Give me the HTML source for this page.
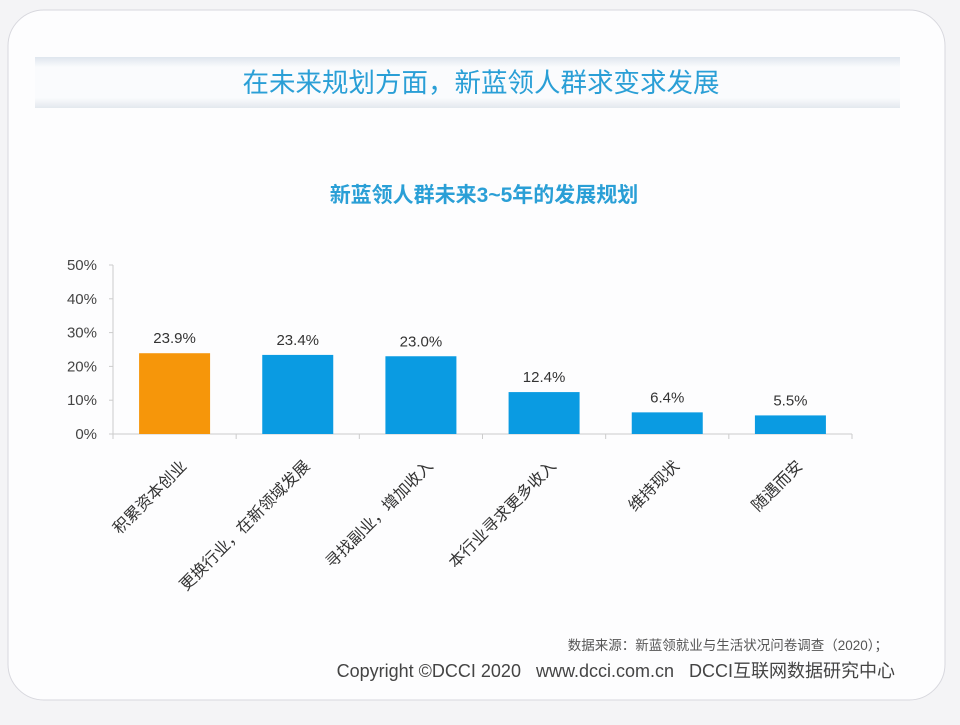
<!DOCTYPE html>
<html><head><meta charset="utf-8"><style>
body{margin:0;width:960px;height:720px;background:#f4f4f6;overflow:hidden;font-family:"Liberation Sans","Noto Sans CJK SC",sans-serif}
</style></head><body>
<svg width="960" height="720">
<defs><linearGradient id="band" x1="0" y1="0" x2="0" y2="1"><stop offset="0" stop-color="#dfe6ee"/><stop offset="0.2" stop-color="#fafbfd"/><stop offset="0.8" stop-color="#fafbfd"/><stop offset="1" stop-color="#e3e8ee"/></linearGradient></defs>
<rect x="8" y="10" width="937" height="690" rx="36" fill="#fdfdfe" stroke="#d8d8de"/>
<rect x="35" y="57" width="865" height="51" fill="url(#band)"/>
<text x="481" y="92" text-anchor="middle" font-size="26.5" fill="#2a9fd6">在未来规划方面，新蓝领人群求变求发展</text>
<text x="484" y="202" text-anchor="middle" font-size="21" font-weight="bold" fill="#2a9fd6">新蓝领人群未来3~5年的发展规划</text>
<g id="chart"></g>
<text x="888" y="650" text-anchor="end" font-size="13.5" fill="#555">数据来源：新蓝领就业与生活状况问卷调查（2020）；</text>
<text x="895" y="677" text-anchor="end" font-size="18" fill="#444" style="white-space:pre">Copyright ©DCCI 2020   www.dcci.com.cn   DCCI互联网数据研究中心</text>
</svg>
<script>
const categories=["积累资本创业","更换行业，在新领域发展","寻找副业，增加收入","本行业寻求更多收入","维持现状","随遇而安"];
const values=[23.9,23.4,23.0,12.4,6.4,5.5];
const valueLabels=["23.9%","23.4%","23.0%","12.4%","6.4%","5.5%"];
const yTicks=[0,10,20,30,40,50];
const colors=["#f6960a","#0a9be2","#0a9be2","#0a9be2","#0a9be2","#0a9be2"];
const NS="http://www.w3.org/2000/svg",g=document.getElementById('chart');
const x0=113,x1=852,y0=434,y50=265;
const y=v=>y0-(v/50)*(y0-y50);
const cw=(x1-x0)/categories.length;
const xc=i=>x0+cw*(i+0.5);
function mk(t,a){const e=document.createElementNS(NS,t);for(const k in a)e.setAttribute(k,a[k]);g.appendChild(e);return e;}
let ax=mk('line',{x1:x0,y1:y50,x2:x0,y2:y0,stroke:'#ccc'});


let bx=mk('line',{x1:x0,y1:y0,x2:x1,y2:y0,stroke:'#ccc'});


yTicks.forEach(t=>{
 const l=mk('text',{x:97,y:y(t)+5,'text-anchor':'end','font-size':15,fill:'#444'});l.textContent=t+'%';
 
 
 mk('line',{x1:x0-4,y1:y(t),x2:x0,y2:y(t),stroke:'#ccc'});
});
for(let i=0;i<=categories.length;i++)mk('line',{x1:x0+cw*i,y1:y0,x2:x0+cw*i,y2:y0+5,stroke:'#ccc'});
categories.forEach((c,i)=>{
 const bw=71,cx=xc(i);
 const r=mk('rect',{x:cx-bw/2,y:y(values[i]),width:bw,height:y0-y(values[i]),fill:colors[i]});
 
 
 const v=mk('text',{x:cx,y:y(values[i])-10,'text-anchor':'middle','font-size':15,fill:'#333'});v.textContent=valueLabels[i];
 
 
 const lx=cx+13,ly=467;
 const t=mk('text',{x:lx,y:ly,'text-anchor':'end','font-size':16,fill:'#333',transform:`rotate(-45 ${lx} ${ly})`});t.textContent=c;
 
 
});
</script>
</body></html>
